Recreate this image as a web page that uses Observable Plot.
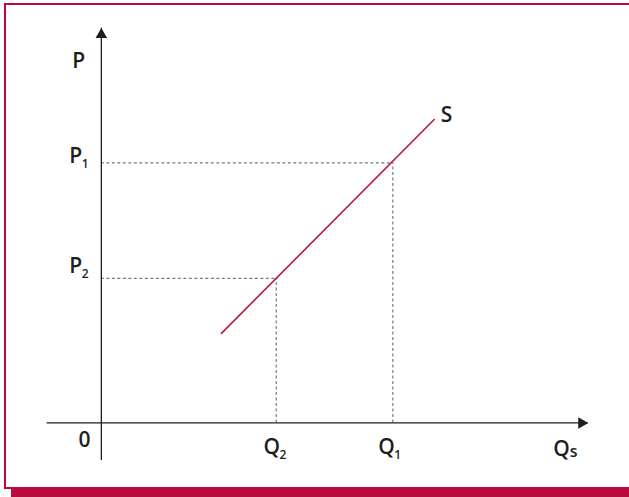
<!DOCTYPE html>
<html><head><meta charset="utf-8">
<script src="https://cdn.jsdelivr.net/npm/d3@7"></script>
<script src="https://cdn.jsdelivr.net/npm/@observablehq/plot@0.6"></script>
<style>
html,body{margin:0;padding:0;background:#fff;}
#wrap{position:relative;width:629px;height:497px;overflow:hidden;}
#wrap svg{position:absolute;left:0;top:0;}
.b{position:absolute;background:#b80a3c;}
</style></head><body>
<div id="wrap">
<div class="b" style="left:4px;top:3px;width:625px;height:2px"></div>
<div class="b" style="left:4px;top:3px;width:2px;height:486px"></div>
<div class="b" style="left:4px;top:487px;width:10px;height:2px"></div>
<div class="b" style="left:11px;top:487px;width:618px;height:10px"></div>
</div>
<script>
// Supply curve S (quantity, price)
const supplyQ = [2.06, 5.71];
const supplyP = [1.55, 5.25];
// Marked points on the curve: (Q2, P2), (Q1, P1)
const pointQ = [3, 5];
const pointP = [2.5, 4.5];
// Axis extents (with arrow tips at the end)
const axisX = [-0.93, 8.35];
const axisY = [-0.65, 6.83];
// Text labels and their anchor positions in chart units
const labelText = ["P", "P_1", "P_2", "S", "0", "Q_2", "Q_1", "Q_s"];
const labelQ = [-0.50, -0.55, -0.55, 5.82, -0.39, 2.78, 4.75, 7.75];
const labelP = [6.15, 4.49, 2.60, 5.20, -0.42, -0.53, -0.53, -0.58];

const supply = supplyQ.map((q, i) => ({q, p: supplyP[i]}));
const labels = labelText.map((t, i) => ({t, q: labelQ[i], p: labelP[i]}));
const ink = "#1e1e1e";

const chart = Plot.plot({
  width: 629, height: 497,
  marginTop: 0, marginRight: 0, marginBottom: 0, marginLeft: 0,
  x: {domain: [-1.73, 9.06], axis: null},
  y: {domain: [-1.29, 7.31], axis: null},
  style: {fontFamily: "Open Sans", background: "transparent", color: ink},
  marks: [
    Plot.ruleY(pointP, {x1: () => 0, x2: (d, i) => pointQ[i], stroke: "#7a7a7a", strokeWidth: 1.2, strokeDasharray: "3,2.5"}),
    Plot.ruleX(pointQ, {y1: () => 0, y2: (d, i) => pointP[i], stroke: "#7a7a7a", strokeWidth: 1.2, strokeDasharray: "3,2.5"}),
    Plot.ruleY([0], {x1: () => axisX[0], x2: () => axisX[1], stroke: ink, strokeWidth: 1.3}),
    Plot.ruleX([0], {y1: () => axisY[0], y2: () => axisY[1], stroke: ink, strokeWidth: 1.3}),
    Plot.dot([0], {x: () => axisX[1], y: () => 0, symbol: "triangle", r: 4.3, fill: ink, rotate: 90, dx: -6.5}),
    Plot.dot([0], {x: () => 0, y: () => axisY[1], symbol: "triangle", r: 4.3, fill: ink, dy: 6.5}),
    Plot.line(supply, {x: "q", y: "p", stroke: "#c0143c", strokeWidth: 1.6}),
    Plot.text(labels, {x: "q", y: "p", text: "t", textAnchor: "start", lineAnchor: "bottom", fontSize: 21, fontWeight: 600, fill: ink})
  ]
});

document.getElementById("wrap").prepend(chart);

d3.select(chart).selectAll("g[aria-label=text] text").each(function() {
  const t = this.textContent;
  if (!t.includes("_")) return;
  const [main, sub] = t.split("_");
  const el = d3.select(this);
  el.text(null);
  el.append("tspan").text(main);
  el.append("tspan")
    .attr("font-size", sub === "s" ? 16 : 12)
    .attr("dy", sub === "s" ? 1 : 5)
    .attr("dx", sub === "s" ? 0 : -0.5)
    .text(sub);
});
</script>
</body></html>
